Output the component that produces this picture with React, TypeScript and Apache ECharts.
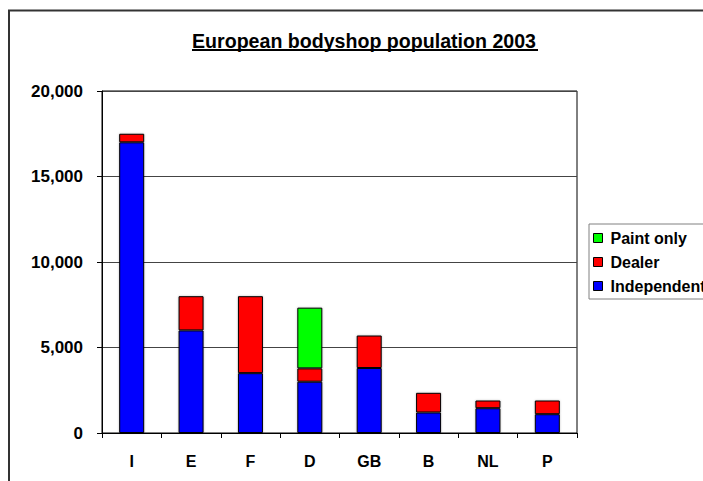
import React, { useEffect, useRef } from "react";
import * as echarts from "echarts";

const categories = ["I", "E", "F", "D", "GB", "B", "NL", "P"];
const independent = [17000, 6000, 3500, 3000, 3800, 1200, 1450, 1100];
const dealer = [500, 2000, 4500, 780, 1900, 1150, 450, 800];
const paintOnly: (number | string)[] = ["-", "-", "-", 3550, "-", "-", "-", "-"];
const yTicks = { min: 0, max: 20000, interval: 5000 };
const titleText = "European bodyshop population 2003";

const FONT = "'Liberation Sans', Arial, sans-serif";

function measure(text: string, font: string): number {
  const c = document.createElement("canvas");
  const ctx = c.getContext("2d");
  if (!ctx) return text.length * 10;
  ctx.font = font;
  return ctx.measureText(text).width;
}

export default function App() {
  const ref = useRef<HTMLDivElement>(null);
  useEffect(() => {
    if (!ref.current) return;
    const chart = echarts.init(ref.current, undefined, { renderer: "svg" });
    const titleFont = `bold 19.6px ${FONT}`;
    const tw = measure(titleText, titleFont);
    const cx = 364;
    const barStyle = (color: string) => ({
      color,
      borderColor: "#000",
      borderWidth: 1,
      shadowColor: "rgba(0,0,0,0.25)",
      shadowBlur: 2,
    });
    chart.setOption({
      animation: false,
      backgroundColor: "#fff",
      graphic: [
        {
          type: "rect",
          shape: { x: 9, y: 10.5, width: 900, height: 700 },
          style: { fill: "none", stroke: "#333", lineWidth: 2 },
          silent: true,
        },
        {
          type: "text",
          x: cx,
          y: 41,
          style: {
            text: titleText,
            font: titleFont,
            fill: "#000",
            align: "center",
            verticalAlign: "middle",
          },
        },
        {
          type: "line",
          shape: { x1: cx - tw / 2, y1: 50, x2: cx + tw / 2 + 2, y2: 50 },
          style: { stroke: "#000", lineWidth: 2 },
        },
      ],
      grid: {
        left: 102,
        top: 91,
        right: 126,
        bottom: 48,
        show: true,
        borderColor: "#000",
        borderWidth: 1,
        backgroundColor: "transparent",
      },
      legend: {
        orient: "vertical",
        left: 589,
        top: 224,
        data: ["Paint only", "Dealer", "Independent"],
        itemWidth: 9,
        itemHeight: 9,
        itemGap: 8,
        padding: [6, 40, 5, 4],
        borderColor: "#808080",
        borderWidth: 1,
        icon: "rect",
        itemStyle: { borderColor: "#000", borderWidth: 1, shadowBlur: 0 },
        textStyle: {
          fontFamily: FONT,
          fontWeight: "bold",
          fontSize: 16,
          color: "#000",
          lineHeight: 16,
          padding: [0, 0, 0, 3],
        },
      },
      xAxis: {
        type: "category",
        data: categories,
        axisLine: { lineStyle: { color: "#000", width: 1 } },
        axisTick: { show: true, length: 5, lineStyle: { color: "#000" } },
        axisLabel: {
          margin: 20,
          fontFamily: FONT,
          fontWeight: "bold",
          fontSize: 16,
          color: "#000",
        },
      },
      yAxis: {
        type: "value",
        min: yTicks.min,
        max: yTicks.max,
        interval: yTicks.interval,
        axisLine: { show: true, lineStyle: { color: "#000", width: 1 } },
        axisTick: { show: true, length: 5, lineStyle: { color: "#000" } },
        splitLine: { show: true, lineStyle: { color: "#444", width: 1 } },
        axisLabel: {
          margin: 19,
          fontFamily: FONT,
          fontWeight: "bold",
          fontSize: 17,
          color: "#000",
          formatter: (v: number) => v.toLocaleString("en-US"),
        },
      },
      series: [
        {
          name: "Independent",
          type: "bar",
          stack: "total",
          barWidth: 25,
          data: independent,
          itemStyle: barStyle("#0000FF"),
        },
        {
          name: "Dealer",
          type: "bar",
          stack: "total",
          barWidth: 25,
          data: dealer,
          itemStyle: barStyle("#FF0000"),
        },
        {
          name: "Paint only",
          type: "bar",
          stack: "total",
          barWidth: 25,
          data: paintOnly,
          itemStyle: barStyle("#00FF00"),
        },
      ],
    });
    return () => chart.dispose();
  }, []);
  return (
    <div
      ref={ref}
      style={{ position: "absolute", left: 0, top: 0, width: 703, height: 481 }}
    />
  );
}
